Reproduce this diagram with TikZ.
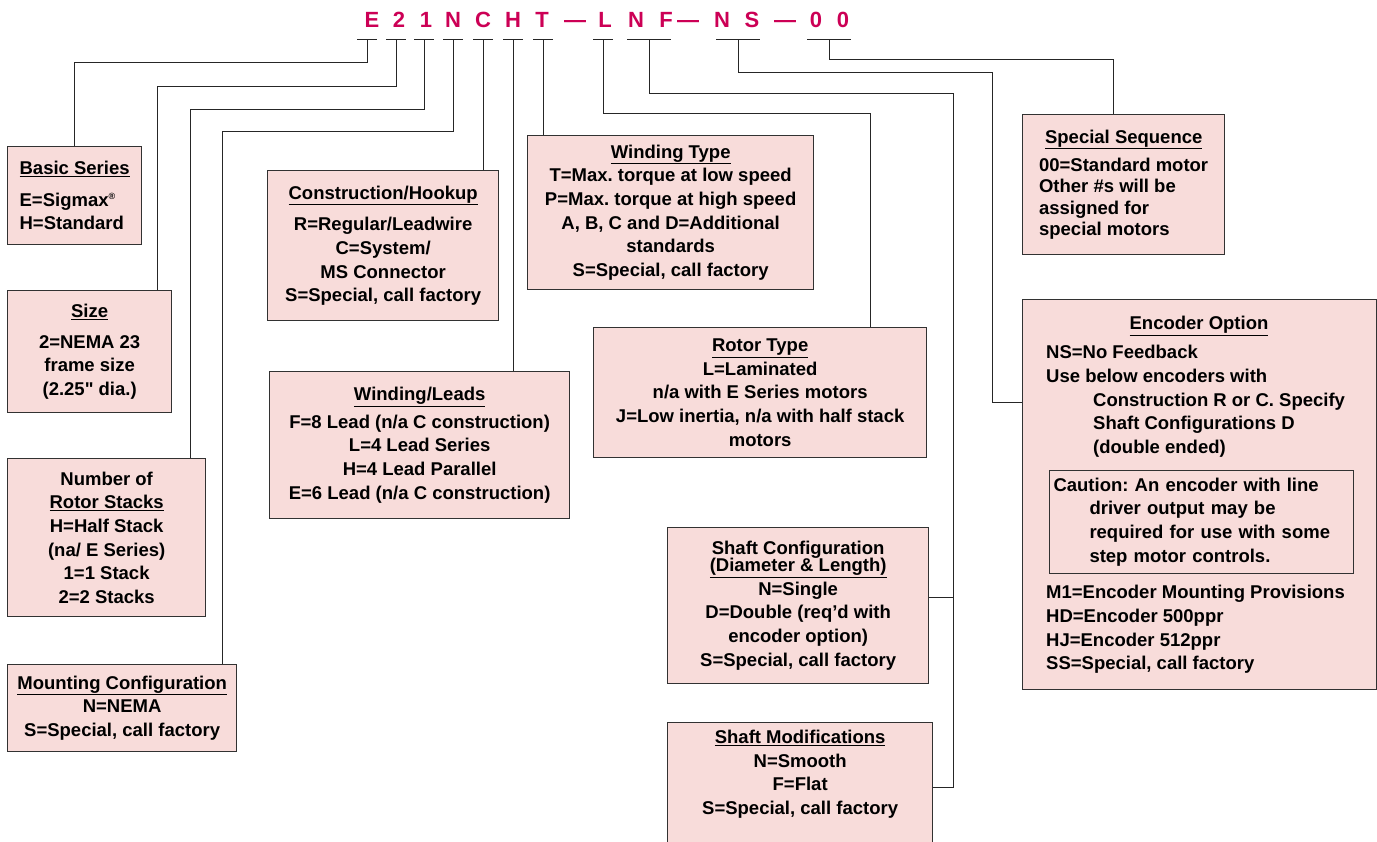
\documentclass[tikz,border=0pt]{standalone}
\usepackage{fontspec}
\setmainfont{Liberation Sans}[Ligatures=TeXOff]
\frenchspacing
\definecolor{codered}{RGB}{204,0,85}
\definecolor{boxfill}{RGB}{248,220,218}
\definecolor{boxline}{RGB}{50,50,50}
\newcommand{\optfont}{\fontsize{18.5}{23.7}\selectfont\bfseries}
\newcommand{\codefont}{\fontsize{22}{22}\selectfont\bfseries}
\newcommand{\regmark}{\raisebox{7pt}{\fontsize{9}{9}\selectfont\textregistered}}

\begin{document}
\begin{tikzpicture}[
        x=1pt, y=-1pt,
        optbox/.style={draw=boxline, fill=boxfill, line width=1.3pt, anchor=north west, inner sep=0pt, align=center, font=\optfont},
        codechar/.style={font=\codefont, text=codered, anchor=base, inner sep=0pt},
        plain/.style={font=\optfont, inner sep=0pt, align=left, anchor=north west},
        wire/.style={line width=1pt, draw=black!85}
    ]
        \useasboundingbox (0,0) rectangle (1377,842);

        % Part number
        \foreach \ch/\xx [count=\i] in {E/372, 2/399, 1/426, N/453, C/483, H/513, T/542, —/575, L/605, N/636, F/666, —/688, N/722, S/752, —/785, 0/816, 0/843}
            \node[codechar] (code\i) at (\xx,27.5) {\ch};

        % Ticks under the part number
        \foreach \nm/\xx/\w in {E/367/10, 2/396/10, 1/424/10, N/453/10, C/483/10, H/513/10, T/543/10, L/603/10, NF/649/22, NS/738/22, 00/829/22} {
            \coordinate (t\nm) at (\xx,40);
            \draw[wire] ([xshift=-\w pt]t\nm) -- ([xshift=\w pt]t\nm);
        }

        % Left column
        \node[optbox, minimum width=134pt, minimum height=98pt, align=left] (basic) at (7,146) {\underline{Basic Series}\\[8pt]E=Sigmax\regmark\\H=Standard};
        \node[optbox, minimum width=164pt, minimum height=122pt] (size) at (7,290) {\underline{Size}\\[7pt]2=NEMA 23\\frame size\\(2.25" dia.)};
        \node[optbox, minimum width=198pt, minimum height=158pt] (stacks) at (7,458) {Number of\\\underline{Rotor Stacks}\\H=Half Stack\\(na/ E Series)\\1=1 Stack\\2=2 Stacks};
        \node[optbox, minimum width=229pt, minimum height=87pt] (mount) at (7,664) {\underline{Mounting Configuration}\\N=NEMA\\S=Special, call factory};

        % Middle column
        \node[optbox, minimum width=231pt, minimum height=150pt] (hookup) at (267,170) {\underline{Construction/Hookup}\\[8pt]R=Regular/Leadwire\\C=System/\\MS Connector\\S=Special, call factory};
        \node[optbox, minimum width=300pt, minimum height=147pt] (leads) at (269,371) {\underline{Winding/Leads}\\[4pt]F=8 Lead (n/a C construction)\\L=4 Lead Series\\H=4 Lead Parallel\\E=6 Lead (n/a C construction)};
        \node[optbox, minimum width=286pt, minimum height=154pt] (wtype) at (527,135) {\underline{Winding Type}\\T=Max. torque at low speed\\P=Max. torque at high speed\\A, B, C and D=Additional\\standards\\S=Special, call factory};
        \node[optbox, minimum width=333pt, minimum height=130pt] (rotor) at (593,327) {\underline{Rotor Type}\\L=Laminated\\n/a with E Series motors\\J=Low inertia, n/a with half stack\\motors};
        \node[optbox, minimum width=261pt, minimum height=156pt] (shcfg) at (667,527) {Shaft Configuration\\[-7pt]\underline{(Diameter \& Length)}\\N=Single\\D=Double (req’d with\\encoder option)\\S=Special, call factory};
        \node[optbox, minimum width=265pt, minimum height=130pt] (shmod) at (667,722) {\underline{Shaft Modifications}\\N=Smooth\\F=Flat\\S=Special, call factory\\\strut};

        % Right column
        \node[optbox, minimum width=202pt, minimum height=140pt, align=left, font=\fontsize{18.5}{21.5}\selectfont\bfseries] (special) at (1022,114) {\hspace*{6pt}\underline{Special Sequence}\\[6.5pt]00=Standard motor\\Other \#s will be\\assigned for\\special motors};
        \node[optbox, minimum width=354pt, minimum height=390pt] (encoder) at (1022,299) {};
        \node[font=\optfont, inner sep=0pt, anchor=base] (enctitle) at (1199,329.6) {\underline{Encoder Option}};
        \node[plain] (encfb) at (1046,345) {NS=No Feedback\\Use below encoders with\\\hspace*{47pt}Construction R or C. Specify\\\hspace*{47pt}Shaft Configurations D\\\hspace*{47pt}(double ended)};
        \node[draw=boxline, line width=1pt, anchor=north west, inner xsep=4pt, inner ysep=0pt, text width=296pt, minimum height=103pt, align=left, font=\optfont] (caution) at (1049,470) {Caution: An encoder with line\\\hspace*{36pt}driver output may be\\\hspace*{36pt}required for use with some\\\hspace*{36pt}step motor controls.};
        \node[plain] (encsel) at (1046,585) {M1=Encoder Mounting Provisions\\HD=Encoder 500ppr\\HJ=Encoder 512ppr\\SS=Special, call factory};
        \coordinate (encin) at ([yshift=-104pt]encoder.north west);
        \coordinate (nfbend) at (953,94);

        % Connections
        \draw[wire] (tE) -- (tE |- 0,63) -| (basic.north);
        \draw[wire] (t2) -- (t2 |- 0,87) -| (size.north west -| 157,0);
        \draw[wire] (t1) -- (t1 |- 0,110) -| (stacks.north west -| 190,0);
        \draw[wire] (tN) -- (tN |- 0,132) -| (mount.north west -| 222,0);
        \draw[wire] (tC) -- (tC |- hookup.north);
        \draw[wire] (tH) -- (tH |- leads.north);
        \draw[wire] (tT) -- (tT |- wtype.north);
        \draw[wire] (tL) -- (tL |- 0,114) -| (rotor.north west -| 870,0);
        \draw[wire] (tNF) |- (nfbend) -- (nfbend |- shmod.east) -- (shmod.east);
        \draw[wire] ([yshift=8pt]shcfg.east) -- ([yshift=8pt]shcfg.east -| nfbend);
        \draw[wire] (tNS) -- (tNS |- 0,73) -| (encin -| 992,0) -- (encin);
        \draw[wire] (t00) -- (t00 |- 0,60) -| (special.north west -| 1113,0);

    \end{tikzpicture}
\end{document}
